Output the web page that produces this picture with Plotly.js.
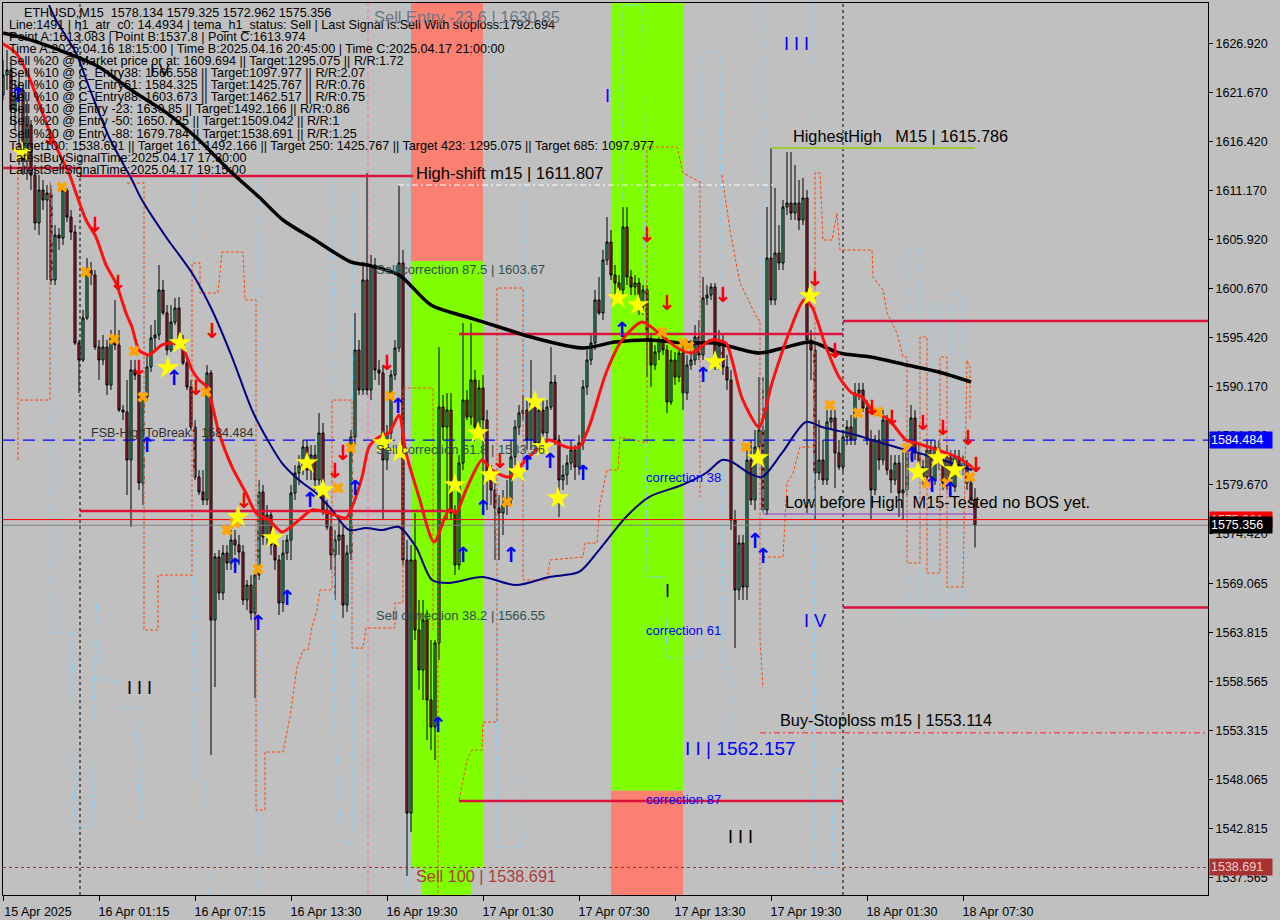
<!DOCTYPE html>
<html><head><meta charset="utf-8">
<script src="https://cdn.plot.ly/plotly-3.0.1.min.js"></script>
<style>html,body{margin:0;padding:0;background:#c0c0c0;}#chart{width:1280px;height:920px;}</style>
</head><body><div id="chart"></div>
<script>
// ---------- axis ticks ----------
const tickBars = [0,24,48,72,96,120,144,168,192,216,240];
const tickLabels = ['15 Apr 2025','16 Apr 01:15','16 Apr 07:15','16 Apr 13:30','16 Apr 19:30','17 Apr 01:30','17 Apr 07:30','17 Apr 13:30','17 Apr 19:30','18 Apr 01:30','18 Apr 07:30'];
const priceTicks = [1626.920,1621.670,1616.420,1611.170,1605.920,1600.670,1595.420,1590.170,1584.920,1579.670,1574.420,1569.065,1563.815,1558.565,1553.315,1548.065,1542.815,1537.565];

// ---------- ETHUSD M15 candles (bar index = position) ----------
const candleOpen = [
1621.45,1623.59,1624.13,1619.84,1621.45,1621.99,1614.49,1618.24,1612.88,1607.74,
1611.27,1610.20,1610.95,1601.63,1606.45,1606.13,1611.27,1608.38,1606.77,1594.88,
1593.06,1597.56,1602.70,1602.17,1594.45,1593.06,1594.45,1590.38,1595.42,1594.67,
1587.70,1587.49,1582.35,1591.99,1591.45,1579.88,1589.10,1592.31,1595.42,1595.74,
1600.56,1598.10,1594.13,1597.13,1598.63,1595.20,1592.74,1590.17,1585.88,1580.52,
1578.92,1578.06,1591.67,1565.20,1571.95,1568.10,1572.38,1571.31,1573.77,1573.24,
1572.49,1567.35,1568.95,1565.95,1570.02,1578.92,1574.10,1576.45,1573.24,1571.63,
1567.03,1572.38,1573.77,1578.81,1580.95,1581.70,1583.74,1581.27,1582.88,1580.20,
1585.24,1576.99,1575.17,1572.17,1573.77,1574.31,1566.81,1572.38,1584.81,1594.13,
1589.85,1601.63,1589.85,1603.24,1591.99,1591.67,1582.35,1585.24,1591.45,1594.35,
1603.45,1571.63,1544.52,1571.63,1564.13,1559.85,1565.20,1556.63,1553.74,1562.74,
1588.02,1585.88,1587.70,1576.67,1571.10,1582.02,1588.77,1586.95,1590.92,1585.88,
1590.06,1586.63,1580.74,1579.13,1577.20,1576.67,1577.52,1578.06,1582.67,1585.88,
1587.38,1587.70,1584.49,1588.45,1584.17,1587.70,1585.24,1588.02,1590.70,1584.49,
1580.20,1580.74,1582.02,1583.42,1581.60,1584.17,1590.17,1593.06,1594.88,1599.49,
1598.10,1603.77,1605.70,1602.17,1601.31,1600.56,1607.31,1601.95,1600.88,1601.31,
1598.74,1600.56,1595.20,1592.52,1593.92,1595.20,1594.13,1588.56,1593.06,1591.24,
1593.81,1589.52,1592.52,1593.06,1595.52,1593.60,1599.70,1600.02,1600.88,1592.85,
1594.67,1592.31,1590.92,1575.92,1568.42,1573.45,1568.74,1582.35,1578.06,1583.74,
1585.56,1576.99,1603.99,1599.49,1604.52,1603.45,1609.45,1609.88,1608.81,1609.88,
1608.06,1610.42,1595.20,1594.13,1580.95,1582.35,1580.20,1586.42,1586.85,1583.10,
1581.60,1584.81,1585.88,1584.49,1589.52,1589.85,1587.92,1584.49,1579.13,1584.49,
1582.35,1586.63,1581.27,1580.20,1582.02,1578.81,1579.13,1583.10,1586.85,1583.10,
1581.60,1580.52,1583.42,1580.20,1583.74,1582.35,1579.88,1582.67,1579.45,1582.67,
1581.60,1582.02,1579.88,1578.134];
const candleHigh = [
1625.20,1626.27,1625.20,1623.06,1623.59,1622.52,1620.92,1618.77,1613.95,1612.88,
1612.34,1611.81,1611.81,1607.52,1607.20,1611.81,1611.49,1609.13,1607.52,1595.20,
1598.42,1603.99,1603.56,1602.70,1595.20,1595.74,1595.20,1596.27,1599.49,1596.27,
1588.24,1590.92,1593.06,1593.06,1591.99,1589.31,1593.60,1596.81,1597.35,1603.24,
1601.63,1598.95,1598.95,1599.70,1599.81,1595.74,1593.28,1590.92,1586.63,1581.27,
1581.27,1592.52,1591.99,1572.38,1572.70,1573.24,1573.24,1574.85,1574.85,1574.31,
1573.24,1569.49,1570.02,1570.56,1580.20,1579.67,1577.52,1576.99,1574.31,1572.17,
1573.77,1574.31,1579.67,1581.81,1582.88,1584.49,1584.49,1583.95,1583.95,1587.38,
1586.31,1578.06,1576.45,1574.85,1575.92,1575.38,1573.24,1585.56,1598.10,1595.20,
1603.56,1613.08,1604.31,1603.99,1593.06,1592.52,1586.10,1591.99,1595.20,1611.81,
1604.85,1573.77,1573.24,1576.67,1567.35,1567.35,1566.27,1563.06,1563.06,1594.45,
1589.31,1589.52,1589.52,1577.52,1582.88,1597.02,1589.85,1597.02,1591.99,1590.92,
1591.45,1587.70,1581.81,1580.20,1578.59,1579.13,1580.20,1584.49,1586.63,1588.24,
1589.31,1588.77,1593.06,1589.31,1588.24,1588.77,1588.77,1594.45,1591.45,1585.02,
1581.81,1582.88,1584.49,1583.95,1585.02,1590.92,1594.13,1595.74,1600.56,1601.95,
1604.85,1608.38,1606.99,1603.24,1602.17,1609.45,1609.45,1602.70,1602.17,1601.85,
1601.09,1601.09,1595.74,1594.67,1596.27,1596.27,1594.67,1594.13,1593.92,1594.67,
1594.67,1593.60,1595.20,1596.81,1597.35,1601.95,1601.09,1601.31,1601.31,1596.27,
1595.74,1593.60,1591.99,1576.99,1574.31,1574.31,1583.42,1584.49,1585.56,1591.24,
1591.24,1609.45,1615.77,1611.49,1607.52,1610.20,1615.34,1615.34,1613.95,1612.34,
1612.56,1611.27,1596.27,1594.67,1586.63,1584.49,1587.70,1587.70,1587.70,1584.49,
1585.56,1586.63,1587.17,1590.60,1590.60,1590.60,1588.77,1585.56,1585.02,1585.56,
1587.70,1587.17,1582.88,1582.88,1582.88,1583.42,1583.95,1588.24,1587.70,1583.95,
1582.35,1584.49,1584.49,1584.49,1584.49,1582.88,1583.95,1583.42,1583.42,1583.42,
1582.88,1582.35,1580.42,1579.325];
const candleLow = [
1620.92,1621.99,1618.24,1617.70,1613.95,1612.88,1612.34,1611.27,1606.99,1606.45,
1609.13,1601.63,1601.09,1601.09,1604.85,1605.38,1607.84,1605.92,1594.67,1589.52,
1592.85,1597.35,1601.09,1594.13,1590.92,1592.52,1589.31,1589.85,1594.13,1587.49,
1586.63,1578.59,1575.17,1590.92,1579.13,1577.52,1588.77,1591.77,1594.13,1595.20,
1597.88,1593.60,1593.92,1596.81,1594.99,1592.52,1589.85,1585.56,1580.20,1578.59,
1577.52,1577.52,1550.74,1558.02,1567.35,1567.35,1570.56,1570.56,1572.17,1571.10,
1566.81,1566.27,1565.20,1556.85,1569.49,1573.24,1573.24,1572.17,1570.56,1565.74,
1566.06,1571.63,1571.63,1578.06,1579.67,1580.74,1580.20,1580.20,1579.13,1579.67,
1576.45,1574.85,1570.56,1567.35,1572.17,1565.42,1566.06,1571.63,1583.95,1589.31,
1589.31,1589.31,1588.77,1590.92,1590.38,1575.92,1581.27,1584.49,1590.92,1593.92,
1571.10,1537.78,1542.49,1563.06,1557.70,1556.63,1552.35,1551.27,1550.20,1560.92,
1584.49,1575.92,1575.92,1570.02,1570.56,1581.27,1586.63,1586.10,1584.49,1585.02,
1576.99,1576.99,1577.52,1571.63,1571.63,1574.31,1576.45,1577.52,1581.81,1585.02,
1586.63,1583.42,1583.42,1583.42,1583.42,1584.49,1584.49,1587.70,1583.95,1576.24,
1579.13,1579.67,1581.27,1580.20,1580.74,1583.42,1589.31,1592.52,1594.13,1597.88,
1597.35,1603.24,1601.63,1600.02,1599.49,1600.02,1601.09,1600.02,1600.02,1597.88,
1597.88,1591.24,1590.17,1591.99,1593.06,1593.60,1587.38,1588.24,1590.38,1590.70,
1587.70,1588.77,1591.99,1592.52,1593.06,1593.06,1598.95,1599.49,1591.99,1591.99,
1591.45,1589.85,1574.85,1562.20,1567.35,1567.35,1567.35,1577.52,1576.99,1582.88,
1576.67,1576.45,1598.95,1598.95,1602.70,1602.70,1608.60,1608.06,1608.06,1606.99,
1607.52,1576.67,1590.92,1575.92,1580.20,1579.67,1579.67,1585.56,1579.32,1581.27,
1581.06,1583.95,1583.95,1583.95,1588.77,1587.49,1583.95,1575.92,1578.59,1581.27,
1581.81,1580.74,1578.81,1579.67,1576.24,1575.92,1578.59,1582.35,1582.35,1580.74,
1579.67,1579.67,1579.13,1579.67,1581.27,1579.13,1579.13,1578.59,1578.92,1580.74,
1580.74,1579.13,1577.52,1572.962];
const candleClose = [
1623.59,1624.13,1619.84,1621.45,1621.99,1614.49,1618.24,1612.88,1607.74,1611.27,
1610.20,1610.95,1601.63,1606.45,1606.13,1611.27,1608.38,1606.77,1594.88,1593.06,
1597.56,1602.70,1602.17,1594.45,1593.06,1594.45,1590.38,1595.42,1594.67,1587.70,
1587.49,1582.35,1591.99,1591.45,1579.88,1589.10,1592.31,1595.42,1595.74,1600.56,
1598.10,1594.13,1597.13,1598.63,1595.20,1592.74,1590.17,1585.88,1580.52,1578.92,
1578.06,1591.67,1565.20,1571.95,1568.10,1572.38,1571.31,1573.77,1573.24,1572.49,
1567.35,1568.95,1565.95,1570.02,1578.92,1574.10,1576.45,1573.24,1571.63,1567.03,
1572.38,1573.77,1578.81,1580.95,1581.70,1583.74,1581.27,1582.88,1580.20,1585.24,
1576.99,1575.17,1572.17,1573.77,1574.31,1566.81,1572.38,1584.81,1594.13,1589.85,
1601.63,1589.85,1603.24,1591.99,1591.67,1582.35,1585.24,1591.45,1594.35,1603.45,
1571.63,1544.52,1571.63,1564.13,1559.85,1565.20,1556.63,1553.74,1562.74,1588.02,
1585.88,1587.70,1576.67,1571.10,1582.02,1588.77,1586.95,1590.92,1585.88,1590.06,
1586.63,1580.74,1579.13,1577.20,1576.67,1577.52,1578.06,1582.67,1585.88,1587.38,
1587.70,1584.49,1588.45,1584.17,1587.70,1585.24,1588.02,1590.70,1584.49,1580.20,
1580.74,1582.02,1583.42,1581.60,1584.17,1590.17,1593.06,1594.88,1599.49,1598.10,
1603.77,1605.70,1602.17,1601.31,1600.56,1607.31,1601.95,1600.88,1601.31,1598.74,
1600.56,1595.20,1592.52,1593.92,1595.20,1594.13,1588.56,1593.06,1591.24,1593.81,
1589.52,1592.52,1593.06,1595.52,1593.60,1599.70,1600.02,1600.88,1592.85,1594.67,
1592.31,1590.92,1575.92,1568.42,1573.45,1568.74,1582.35,1578.06,1583.74,1585.56,
1576.99,1603.99,1599.49,1604.52,1603.45,1609.45,1609.88,1608.81,1609.88,1608.06,
1610.42,1595.20,1594.13,1580.95,1582.35,1580.20,1586.42,1586.85,1583.10,1581.60,
1584.81,1585.88,1584.49,1589.52,1589.85,1587.92,1584.49,1579.13,1584.49,1582.35,
1586.63,1581.27,1580.20,1582.02,1578.81,1579.13,1583.10,1586.85,1583.10,1581.60,
1580.52,1583.42,1580.20,1583.74,1582.35,1579.88,1582.67,1579.45,1582.67,1581.60,
1582.02,1579.88,1578.17,1575.356];

// ---------- moving averages (sampled nodes) ----------
const blackMABar = [0,7,16,24,32,41,49,57,64,70,78,87,91,99,107,116,124,132,145,153,162,170,178,189,195,202,209,217,226,234,242];
const blackMAVal = [1628.09,1627.34,1625.95,1624.45,1621.99,1619.52,1616.63,1613.20,1610.52,1608.06,1605.92,1603.56,1603.24,1602.17,1598.95,1597.67,1596.60,1595.52,1594.35,1594.99,1595.20,1594.88,1594.88,1593.81,1594.35,1594.99,1593.81,1593.38,1592.52,1591.77,1590.70];
const navyMABar = [11.5,13.25,18.25,21.5,26.5,32.25,34.75,40.75,47.25,52.25,57.25,62.25,65.75,69.75,74,78.25,82.25,86.5,90.75,94.75,99,103.25,107.25,111.5,119.75,128.25,136.5,144,149,155.75,161.5,169.75,175.75,179.75,182.25,186.5,189.75,194.75,200.75,204.75,213.25,217.25,225.75,230.75,237.25,242.25];
const navyMAVal = [1631.09,1629.49,1625.95,1622.31,1616.95,1612.34,1610.20,1606.24,1602.38,1598.42,1593.38,1587.70,1584.81,1582.02,1580.20,1578.81,1576.99,1574.85,1575.06,1574.85,1575.17,1573.02,1569.49,1569.17,1569.81,1568.95,1569.81,1570.35,1572.70,1576.24,1578.38,1579.67,1580.95,1582.35,1582.13,1580.95,1580.52,1583.10,1586.42,1585.88,1585.02,1584.49,1583.42,1582.88,1582.02,1581.27];
const redLineBar = [-0.25,3.25,6.5,9,11.5,14,16.5,18.25,20.75,23.25,25.75,28.25,30.75,32.25,34,36.5,39.75,42.25,44.75,47.25,49,51,54,57.25,60.75,63.25,66.5,69.75,74,77.25,81.5,85.75,87.25,89.75,91.5,94,96.5,99,100.75,104,107.75,111.5,113.25,115.75,119.75,122.25,126.5,130.75,136.5,140.75,144,146.5,150.75,154.75,159.75,164,168.25,172.25,177,180.75,182.25,184.75,189,192.25,196.5,200.25,202.25,205.75,209,212.25,214.75,217.25,221.5,225.75,228.25,232.25,235.75,239,242.25];
const redLineVal = [1627.02,1625.95,1623.38,1620.59,1617.70,1615.24,1613.08,1610.95,1608.06,1606.24,1603.24,1601.31,1598.10,1596.60,1594.13,1593.60,1594.67,1594.88,1594.45,1591.99,1590.92,1590.17,1585.24,1581.60,1578.81,1576.67,1575.92,1574.63,1575.92,1576.99,1576.67,1576.13,1577.31,1580.52,1583.74,1584.81,1585.24,1587.17,1583.10,1578.38,1573.56,1576.99,1576.67,1579.13,1582.35,1581.27,1580.52,1582.35,1584.49,1583.74,1583.74,1585.88,1591.67,1595.20,1597.13,1595.95,1594.45,1593.81,1595.20,1594.88,1593.06,1588.99,1585.88,1590.60,1595.95,1599.49,1598.74,1594.45,1591.24,1589.52,1589.10,1587.70,1586.63,1584.49,1584.17,1583.63,1583.10,1582.56,1581.60];

// ---------- step channel lines ----------
const orangeStepBars = [
 [3.75,3.75],
 [4.25,11.75,11.75],
 [31,35.25,35.25,38.75,38.75,47.25,47.25,49.25,49.25,53.75,54.75,60,60.5,63.25,63.25,65.5,65.5,70,71.75,73.5,75,76.25,77.25,78.5,79.25,82.25,82.25,87.25,87.25,90,90.75,98,98,100,100,107.5,107.5],
 [108.75,108.75],
 [114,116,117.25,119.75,120,123.5,123.5,130,130,136,136.75,145,145.5,148.5,149.25,151,153.75,154.25,161,161,168.5,170,174.25,174.25],
 [179.75,181.75,184.25,188.75,189.25,189.25,190],
 [190,195,196,197.5,199.25,203,203,204.25,205,207.25,208.5,209.25,217.25,217.5,220,221,223.5,225,226,226,229.25,229.25,231,231,234.25,234.25,236,236,240,241,241.75,241.75]];
const orangeStepPrices = [
 [1613.74,1582.35],
 [1588.77,1588.77,1612.34],
 [1612.02,1612.02,1564.13,1564.13,1570.02,1570.02,1603.45,1603.45,1600.24,1600.24,1604.63,1604.63,1599.49,1599.49,1544.85,1544.85,1551.06,1551.06,1554.81,1560.17,1561.99,1561.99,1564.45,1566.27,1568.42,1568.42,1588.77,1588.77,1562.20,1562.20,1564.35,1564.35,1567.03,1567.03,1590.06,1590.06,1564.13],
 [1573.77,1535.74],
 [1545.92,1550.20,1551.27,1551.27,1554.27,1554.27,1600.77,1600.77,1569.49,1569.49,1571.63,1571.95,1573.45,1573.45,1577.74,1581.27,1581.27,1584.81,1584.17,1615.88,1615.88,1613.10,1612.13,1578.38],
 [1612.88,1606.99,1601.31,1597.35,1597.35,1563.06,1557.92],
 [1571.95,1571.95,1579.88,1580.95,1583.74,1583.74,1613.10,1613.10,1605.92,1605.92,1608.81,1604.85,1604.85,1601.95,1600.56,1598.10,1595.95,1593.38,1593.38,1571.31,1571.31,1595.52,1595.52,1570.24,1570.24,1593.38,1593.38,1568.74,1568.74,1593.06,1592.31,1586.63]];
const blueStepBars = [
 [12.25,12.25,17.25,18,22.25,23.25,24.25,28.5,28.75,33,34.25,35,35.75],
 [47.5,48,51,51.25],
 [63.75,63.75],
 [82.25,83,84.75,85,87.25,87.5],
 [121.25,123,123.5,130,130.5],
 [155,155,160,161,165.5,166,174.25,174.25,179.25,180,181.75,181.75],
 [190,190],
 [202.5,203,207.25,207.5,211.75],
 [226,226,229.25,229.25],
 [232.25,232.25,234.25,234.25],
 [237.25,237.25,240,240]];
const blueStepPrices = [
 [1612.34,1563.81,1563.81,1543.02,1543.02,1567.56,1558.77,1558.77,1555.88,1555.88,1543.99,1543.99,1630.56],
 [1612.34,1547.85,1547.85,1535.74],
 [1612.34,1535.74],
 [1612.34,1552.88,1541.95,1541.31,1541.31,1612.34],
 [1627.13,1627.13,1540.88,1540.88,1612.34],
 [1610.20,1631.09,1631.09,1569.81,1569.81,1561.13,1561.13,1626.06,1626.06,1560.06,1560.06,1550.20],
 [1631.31,1557.70],
 [1631.31,1538.10,1538.10,1549.13,1549.13],
 [1565.20,1604.85,1604.85,1565.20],
 [1565.20,1599.17,1599.17,1565.20],
 [1565.20,1600.24,1600.24,1565.20]];

// ---------- levels (price, from bar, to bar) ----------
const levelPrice = [1613.63,1612.77,1595.85,1597.24,1576.88,1566.55,1545.81,1538.691,1553.114,1584.484,1615.786,1576.56,1575.961,1575.356,1611.807];
const levelFrom  = [0,19.25,114,210,19.25,210,114,0,189.25,0,192,190,0,0,98.75];
const levelTo    = [19.25,102.5,210,301.25,113.5,301.25,210,301.25,301.25,301.25,243,243,301.25,301.25,192.5];

// ---------- signal markers ----------
const starBar = [4.75,41.25,44.25,58.75,67.5,76,80,95,99.25,113,118.75,121.75,128.75,133,135,138.75,153.75,158.75,178,188.75,201.75,228.75,233.75,238];
const starPrice = [1615.34,1592.20,1594.88,1576.24,1573.99,1582.02,1579.13,1584.17,1583.20,1579.67,1585.24,1580.74,1581.06,1588.56,1583.74,1578.27,1599.70,1598.95,1592.85,1582.56,1599.92,1581.06,1582.56,1581.27];
const crossBar = [14.75,20.75,27.75,32.75,35,50.75,56,58,63.75,83.75,87,96.75,126,164.75,170,171.5,185.75,206.75,213.75,218.75,226,231,236,241.75];
const crossPrice = [1611.60,1602.49,1595.31,1594.02,1589.10,1589.63,1574.85,1575.60,1570.67,1579.35,1583.63,1589.20,1577.84,1596.06,1594.88,1594.56,1583.74,1588.24,1587.38,1587.49,1583.63,1579.88,1579.88,1580.52];
const sellArrowBar = [11.75,23,28.75,34,48.25,52.25,60.25,83,85,96,124.25,161,166,180,203,208,217.25,222.25,230,235,241.25,243.25];
const sellArrowPrice = [1616.63,1607.31,1601.09,1591.99,1589.85,1595.95,1577.74,1580.95,1582.88,1592.52,1582.02,1606.24,1598.95,1599.81,1601.52,1593.81,1587.70,1586.63,1586.10,1585.56,1584.49,1581.60];
const buyArrowBar = [3.75,36,42.75,58,63.75,71,76.75,88,98.75,108.75,115,120,127,131,136.75,145,154.75,175,188,190,227.25,232.25,236.75];
const buyArrowPrice = [1621.24,1583.74,1590.92,1570.77,1564.67,1567.35,1577.84,1579.13,1587.92,1553.74,1571.95,1576.99,1571.95,1581.81,1582.02,1580.74,1596.06,1591.24,1573.45,1571.85,1582.67,1579.45,1578.92];

// ---------- info panel text ----------
const infoLines = [
 'ETHUSD,M15  1578.134 1579.325 1572.962 1575.356',
 'Line:1491 | h1_atr_c0: 14.4934 | tema_h1_status: Sell | Last Signal is:Sell With stoploss:1792.694',
 'Point A:1613.083 | Point B:1537.8 | Point C:1613.974',
 'Time A:2025.04.16 18:15:00 | Time B:2025.04.16 20:45:00 | Time C:2025.04.17 21:00:00',
 'Sell %20 @ Market price or at: 1609.694 || Target:1295.075 || R/R:1.72',
 'Sell %10 @ C_Entry38: 1566.558 || Target:1097.977 || R/R:2.07',
 'Sell %10 @ C_Entry61: 1584.325 || Target:1425.767 || R/R:0.76',
 'Sell %10 @ C_Entry88: 1603.673 || Target:1462.517 || R/R:0.75',
 'Sell %10 @ Entry -23: 1630.85 || Target:1492.166 || R/R:0.86',
 'Sell %20 @ Entry -50: 1650.725 || Target:1509.042 || R/R:1',
 'Sell %20 @ Entry -88: 1679.784 || Target:1538.691 || R/R:1.25',
 'Target100: 1538.691 || Target 161: 1492.166 || Target 250: 1425.767 || Target 423: 1295.075 || Target 685: 1097.977',
 'LatestBuySignalTime:2025.04.17 17:30:00',
 'LatestSellSignalTime:2025.04.17 19:15:00'];

// ---------- build ----------
const FONT = 'Liberation Sans, Arial, sans-serif';
const XMAX = 301.25, YMIN = 1535.74, YMAX = 1631.31;
const px = x => (x - 3) / 1205;
const py = y => 1 - (y - 3) / 892;

const traces = [];
blueStepBars.forEach((b, k) => traces.push({type:'scatter', mode:'lines', x:b, y:blueStepPrices[k],
  line:{color:'#87cefa', width:1, dash:'dashdot'}, hoverinfo:'skip', showlegend:false}));
orangeStepBars.forEach((b, k) => traces.push({type:'scatter', mode:'lines', x:b, y:orangeStepPrices[k],
  line:{color:'#ff4500', width:1, dash:'3px,2px'}, hoverinfo:'skip', showlegend:false}));

const idx = candleClose.map((_, i) => i);
traces.push({type:'candlestick', x:idx, open:candleOpen, high:candleHigh, low:candleLow, close:candleClose,
  increasing:{line:{color:'#000000', width:1}, fillcolor:'#3cb371'},
  decreasing:{line:{color:'#000000', width:1}, fillcolor:'#b22234'},
  whiskerwidth:0, hoverinfo:'skip', showlegend:false});

const levelStyle = [
 {c:'#dc143c', w:2.5, d:'solid'},{c:'#dc143c', w:2.5, d:'solid'},{c:'#dc143c', w:2.5, d:'solid'},{c:'#dc143c', w:2.5, d:'solid'},
 {c:'#dc143c', w:2.5, d:'solid'},{c:'#dc143c', w:2.5, d:'solid'},{c:'#dc143c', w:2.5, d:'solid'},
 {c:'#b22222', w:1, d:'3px,3px'},{c:'#ff2020', w:1, d:'6px,3px,2px,3px'},{c:'#0000ff', w:1.2, d:'12px,8px'},
 {c:'#9acd32', w:2, d:'solid'},{c:'#9932cc', w:1.2, d:'solid'},{c:'#ff0000', w:1, d:'solid'},{c:'#808080', w:1, d:'solid'},
 {c:'#ffffff', w:1, d:'6px,3px,2px,3px'}];
levelPrice.forEach((p, k) => traces.push({type:'scatter', mode:'lines', x:[levelFrom[k], levelTo[k]], y:[p, p],
  line:{color:levelStyle[k].c, width:levelStyle[k].w, dash:levelStyle[k].d}, hoverinfo:'skip', showlegend:false}));

traces.push({type:'scatter', mode:'lines', x:navyMABar, y:navyMAVal, line:{color:'#000080', width:2, shape:'spline', smoothing:0.8}, hoverinfo:'skip', showlegend:false});
traces.push({type:'scatter', mode:'lines', x:blackMABar, y:blackMAVal, line:{color:'#000000', width:3.5, shape:'spline', smoothing:0.8}, hoverinfo:'skip', showlegend:false});
traces.push({type:'scatter', mode:'lines', x:redLineBar, y:redLineVal, line:{color:'#ff1010', width:3, shape:'spline', smoothing:0.7}, hoverinfo:'skip', showlegend:false});

traces.push({type:'scatter', mode:'markers', x:crossBar, y:crossPrice, marker:{symbol:'x', size:10, color:'#ffa500', line:{width:0}}, hoverinfo:'skip', showlegend:false});
traces.push({type:'scatter', mode:'markers', x:starBar, y:starPrice, marker:{symbol:'star', size:17, color:'#ffff00', line:{width:0}}, hoverinfo:'skip', showlegend:false});
traces.push({type:'scatter', mode:'text', x:sellArrowBar, y:sellArrowPrice, text:sellArrowBar.map(() => '↓'),
  textfont:{family:'DejaVu Sans', size:21, color:'#ff0000', weight:'bold'}, hoverinfo:'skip', showlegend:false});
traces.push({type:'scatter', mode:'text', x:buyArrowBar, y:buyArrowPrice, text:buyArrowBar.map(() => '↑'),
  textfont:{family:'DejaVu Sans', size:21, color:'#0000ff', weight:'bold'}, hoverinfo:'skip', showlegend:false});

const shapes = [
 {type:'rect', xref:'x', yref:'y', x0:102, x1:120, y0:1603.67, y1:YMAX, fillcolor:'#fa8072', line:{width:0}, layer:'below'},
 {type:'rect', xref:'x', yref:'y', x0:102, x1:120, y0:1538.691, y1:1603.67, fillcolor:'#7fff00', line:{width:0}, layer:'below'},
 {type:'rect', xref:'x', yref:'y', x0:104.75, x1:117, y0:YMIN, y1:1538.691, fillcolor:'#7fff00', line:{width:0}, layer:'below'},
 {type:'rect', xref:'x', yref:'y', x0:152, x1:170, y0:1546.9, y1:YMAX, fillcolor:'#7fff00', line:{width:0}, layer:'below'},
 {type:'rect', xref:'x', yref:'y', x0:152, x1:170, y0:YMIN, y1:1546.9, fillcolor:'#fa8072', line:{width:0}, layer:'below'},
 {type:'line', xref:'x', yref:'paper', x0:19.25, x1:19.25, y0:0, y1:1, line:{color:'#000000', width:1, dash:'3px,3px'}, layer:'below'},
 {type:'line', xref:'x', yref:'paper', x0:210, x1:210, y0:0, y1:1, line:{color:'#000000', width:1, dash:'3px,3px'}, layer:'below'},
 {type:'line', xref:'x', yref:'paper', x0:91.25, x1:91.25, y0:0, y1:1, line:{color:'#ff69b4', width:1, dash:'4px,3px'}, layer:'below'},
 {type:'line', xref:'x', yref:'paper', x0:114, x1:114, y0:0, y1:1, line:{color:'#3030b0', width:1, dash:'4px,3px'}, layer:'below'},
 {type:'line', xref:'x', yref:'paper', x0:101.25, x1:101.25, y0:0, y1:1, line:{color:'#7fd8ff', width:1, dash:'4px,3px'}, layer:'below'}
];

const ann = [];
infoLines.forEach((t, k) => ann.push({xref:'paper', yref:'paper', x:px(k === 0 ? 22 : 7), y:py(13 + k * 12.05),
  xanchor:'left', yanchor:'middle', text:t, showarrow:false, font:{family:FONT, size:12.6, color:'#000000'}}));
const lbl = (x, y, t, size, color, anchor) => ann.push({xref:'x', yref:'y', x:x, y:y, text:t, showarrow:false,
  xanchor:anchor || 'left', yanchor:'middle', font:{family:FONT, size:size, color:color}});
lbl(92.25, 1629.81, 'Sell Entry -23.6 | 1630.85', 16.5, '#6a7888');
lbl(102.75, 1613.10, 'High-shift m15 | 1611.807', 16.5, '#000000');
lbl(92.75, 1602.81, 'Sell correction 87.5 | 1603.67', 13, '#2f4f4f');
lbl(92.75, 1583.52, 'Sell correction 61.8 | 1583.36', 13, '#2f4f4f');
lbl(92.75, 1565.74, 'Sell correction 38.2 | 1566.55', 13, '#2f4f4f');
lbl(21.5, 1585.24, 'FSB-HighToBreak | 1584.484', 12.5, '#303030');
lbl(160.25, 1580.52, 'correction 38', 13, '#0000ff');
lbl(160.25, 1564.03, 'correction 61', 13, '#0000ff');
lbl(160.25, 1545.92, 'correction 87', 13, '#0000ff');
lbl(151, 1621.34, 'I', 18, '#0000ff', 'center');
lbl(198.25, 1626.92, 'I I I', 18, '#0000ff', 'center');
lbl(166, 1568.31, 'I', 18, '#000000', 'center');
lbl(203, 1565.10, 'I V', 18, '#0000ff', 'center');
lbl(170, 1551.49, 'I I | 1562.157', 19, '#0000ff');
lbl(34, 1557.92, 'I I I', 18, '#000000', 'center');
lbl(184.25, 1541.96, 'I I I', 18, '#000000', 'center');
lbl(39.25, 1624.13, 'I V', 16, '#000000', 'center');
lbl(197, 1617.06, 'HighestHigh   M15 | 1615.786', 16.3, '#000000');
lbl(195, 1577.85, 'Low before High  M15-Tested no BOS yet.', 16.3, '#000000');
lbl(193.75, 1554.49, 'Buy-Stoploss m15 | 1553.114', 16.3, '#000000');
lbl(102.75, 1537.78, 'Sell 100 | 1538.691', 16.3, '#b03a3a');
const box = (p, t, bg, fg) => ann.push({xref:'paper', yref:'y', x:1, xshift:1, y:p, xanchor:'left', yanchor:'middle',
  text:t, showarrow:false, bgcolor:bg, borderpad:1, width:60, align:'left', font:{family:FONT, size:12.5, color:fg}});
box(1584.484, '1584.484', '#0000ff', '#ffffff');
box(1575.961, '1575.961', '#ff0000', '#ffd0d0');
box(1575.356, '1575.356', '#000000', '#ffffff');
box(1538.691, '1538.691', '#a83232', '#f4d0d0');

const layout = {
  width:1280, height:920, margin:{l:3, r:72, t:3, b:25}, paper_bgcolor:'#c0c0c0', plot_bgcolor:'#c0c0c0',
  font:{family:FONT, size:12.5, color:'#000000'}, showlegend:false, hovermode:false, boxgap:0.25,
  xaxis:{range:[0, XMAX], tickvals:tickBars, ticktext:tickLabels, ticks:'outside', ticklen:5, tickcolor:'#000',
    showline:true, linecolor:'#000', linewidth:1, mirror:true, showgrid:false, zeroline:false,
    rangeslider:{visible:false}, ticklabelshift:35, tickfont:{family:FONT, size:12.5, color:'#000'}, fixedrange:true},
  yaxis:{range:[YMIN, YMAX], side:'right', tickvals:priceTicks, ticktext:priceTicks.map(v => v.toFixed(3)),
    ticks:'outside', ticklen:4, tickcolor:'#000', showline:true, linecolor:'#000', linewidth:1, mirror:true,
    showgrid:false, zeroline:false, tickfont:{family:FONT, size:12.5, color:'#000'}, fixedrange:true},
  shapes:shapes, annotations:ann
};
Plotly.newPlot('chart', traces, layout, {staticPlot:true, displayModeBar:false});
</script></body></html>
